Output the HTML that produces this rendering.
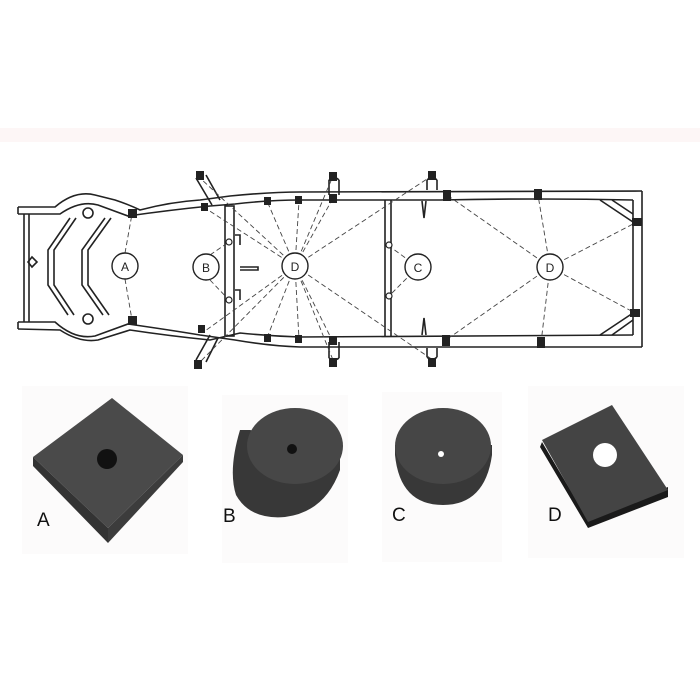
<!DOCTYPE html>
<html><head><meta charset="utf-8"><style>
html,body{margin:0;padding:0;background:#fff;width:700px;height:700px;overflow:hidden}
</style></head><body>
<svg width="700" height="700" viewBox="0 0 700 700" xmlns="http://www.w3.org/2000/svg" font-family="Liberation Sans, sans-serif">
<rect x="0" y="128" width="700" height="14" fill="#fdf6f6"/>
<g fill="none" stroke="#222" stroke-width="1.6">
<path d="M18 207 L55 207 Q75 190 95 195 L115 200 Q130 205 140 210 Q170 202 200 200 L230 196 Q270 192 300 192 L642 191"/>
<path d="M18 214 L60 214 Q80 200 98 205 L128 216 Q170 210 210 206 L235 204 Q270 200 300 200 L440 200 Q540 198 633 200"/>
<path d="M18 322 L55 322 Q75 340 95 336 L128 324 Q170 330 200 335 L235 340 Q270 346 300 347 L642 347"/>
<path d="M18 329 L60 330 Q80 343 98 340 L130 330 Q170 336 210 340 L240 333 Q270 336 300 337 L633 335"/>
<line x1="18" y1="207" x2="18" y2="214"/><line x1="18" y1="322" x2="18" y2="329"/>
<line x1="24" y1="214" x2="24" y2="322"/><line x1="29" y1="214" x2="29" y2="322"/>
<line x1="642" y1="191" x2="642" y2="347"/><line x1="633" y1="200" x2="633" y2="335"/>
<path d="M70 218 L48 250 L48 285 L68 315"/><path d="M76 218 L54 250 L54 285 L74 315"/>
<path d="M105 218 L82 250 L82 285 L103 315"/><path d="M111 218 L88 250 L88 285 L109 315"/>
<circle cx="88" cy="213" r="5"/><circle cx="88" cy="319" r="5"/>
<polygon points="28,262 32,257 37,262 32,267"/>
<rect x="225" y="206" width="9" height="130"/>
<path d="M235 235 L240 235 L240 245 M235 290 L240 290 L240 300 M240 267 L258 267 L258 270 L240 270"/>
<line x1="385" y1="200" x2="385" y2="337"/><line x1="391" y1="200" x2="391" y2="337"/>
<path d="M422 201 L424 218 L426 201 M422 335 L424 318 L426 335"/>
<path d="M600 200 L633 222 M612 200 L633 214 M600 335 L633 313 M612 335 L633 320"/>
<path d="M196 178 L212 205 M206 175 L220 200"/>
<path d="M196 360 L210 335 M206 362 L218 338"/>
<path d="M329 180 L329 195 M339 180 L339 195 M329 180 Q334 175 339 180"/>
<path d="M329 358 L329 342 M339 358 L339 342 M329 358 Q334 362 339 358"/>
<path d="M427 180 L427 190 M437 180 L437 190 M427 180 Q432 175 437 180"/>
<path d="M427 357 L427 348 M437 357 L437 348 M427 357 Q432 362 437 357"/>
</g>
<g stroke="#444" stroke-width="0.9" stroke-dasharray="5,3" fill="none">
<path d="M125 253 L132 214 M125 279 L132 320"/>
<path d="M210 255 L229 242 M210 280 L229 300"/>
<path d="M295 266 L200 178 M295 266 L205 208 M295 266 L267 201 M295 266 L299 201 M295 266 L333 176 M295 266 L332 200 M295 266 L433 175"/>
<path d="M295 266 L200 362 M295 266 L205 331 M295 266 L267 338 M295 266 L299 339 M295 266 L333 360 M295 266 L332 340 M295 266 L433 360"/>
<path d="M418 267 L389 246 M418 267 L389 296"/>
<path d="M550 267 L447 195 M550 267 L538 195 M550 267 L637 222 M550 267 L635 313 M550 267 L446 340 M550 267 L541 343"/>
</g>
<g fill="#222">
<rect x="128" y="209" width="9" height="9"/><rect x="128" y="316" width="9" height="9"/>
<rect x="201" y="203" width="7" height="8"/><rect x="198" y="325" width="7" height="8"/>
<rect x="196" y="171" width="8" height="9"/><rect x="194" y="360" width="8" height="9"/>
<rect x="264" y="197" width="7" height="8"/><rect x="295" y="196" width="7" height="8"/><rect x="329" y="194" width="8" height="9"/>
<rect x="264" y="334" width="7" height="8"/><rect x="295" y="335" width="7" height="8"/><rect x="329" y="336" width="8" height="9"/>
<rect x="329" y="172" width="8" height="9"/><rect x="329" y="358" width="8" height="9"/>
<rect x="428" y="171" width="8" height="9"/><rect x="428" y="358" width="8" height="9"/>
<rect x="443" y="190" width="8" height="11"/><rect x="534" y="189" width="8" height="11"/>
<rect x="632" y="218" width="10" height="8"/><rect x="630" y="309" width="10" height="8"/>
<rect x="442" y="335" width="8" height="11"/><rect x="537" y="337" width="8" height="11"/>
</g>
<g fill="#fff" stroke="#222" stroke-width="1.2">
<circle cx="229" cy="242" r="3"/><circle cx="229" cy="300" r="3"/>
<circle cx="389" cy="245" r="3"/><circle cx="389" cy="296" r="3"/>
</g>
<g fill="#fff" stroke="#222" stroke-width="1.4">
<circle cx="125" cy="266" r="13"/><circle cx="206" cy="267" r="13"/><circle cx="295" cy="266" r="13"/>
<circle cx="418" cy="267" r="13"/><circle cx="550" cy="267" r="13"/>
</g>
<g font-size="12" fill="#222" text-anchor="middle">
<text x="125" y="271">A</text><text x="206" y="272">B</text><text x="295" y="271">D</text>
<text x="418" y="272">C</text><text x="550" y="272">D</text>
</g>
<rect x="22" y="386" width="166" height="168" fill="#fcfbfb"/>
<rect x="222" y="395" width="126" height="168" fill="#fcfbfb"/>
<rect x="382" y="392" width="120" height="170" fill="#fcfbfb"/>
<rect x="528" y="386" width="156" height="172" fill="#fcfbfb"/>
<polygon points="112,398 183,455 108,528 33,457" fill="#4a4a4a"/>
<polygon points="33,457 33,466 108,543 108,528" fill="#333"/>
<polygon points="108,528 183,455 183,462 108,543" fill="#3c3c3c"/>
<circle cx="107" cy="459" r="10" fill="#111"/>
<path d="M240 430 Q228 470 236 495 Q250 520 285 517 Q325 512 340 470 L340 447 L250 430 Z" fill="#383838"/>
<ellipse cx="295" cy="446" rx="48" ry="38" fill="#474747"/>
<circle cx="292" cy="449" r="5" fill="#111"/>
<path d="M395 455 Q400 505 443 505 Q485 505 492 455 L492 445 L395 445 Z" fill="#383838"/>
<ellipse cx="443" cy="446" rx="48" ry="38" fill="#464646"/>
<circle cx="441" cy="454" r="3" fill="#fff"/>
<polygon points="540,447 588,528 668,497 668,487 588,520 542,442" fill="#1a1a1a"/>
<polygon points="542,440 612,405 668,490 588,522" fill="#444"/>
<circle cx="605" cy="455" r="12" fill="#fff"/>
<g font-size="19" fill="#111">
<text x="37" y="526">A</text><text x="223" y="522">B</text><text x="392" y="521">C</text><text x="548" y="521">D</text>
</g>
</svg>
</body></html>
